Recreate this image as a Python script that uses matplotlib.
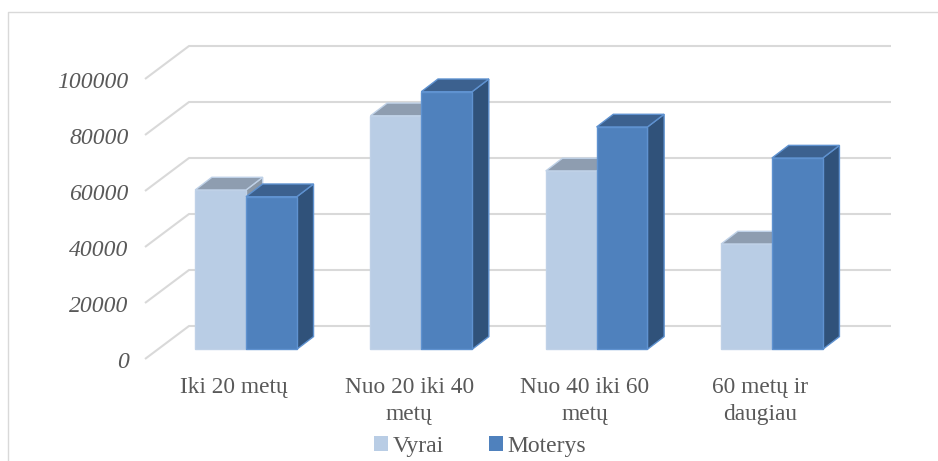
import matplotlib
matplotlib.use("Agg")
import matplotlib.pyplot as plt
from matplotlib.patches import Polygon, Patch
from matplotlib.lines import Line2D

plt.rcParams['font.family'] = ['Liberation Serif', 'DejaVu Serif']

categories = ["Iki 20 metų", "Nuo 20 iki 40\nmetų", "Nuo 40 iki 60\nmetų", "60 metų ir\ndaugiau"]
vyrai = [56900, 83400, 63700, 37600]
moterys = [54500, 92000, 79400, 68300]
y_ticks = [0, 20000, 40000, 60000, 80000, 100000]

W, H = 938, 461
x0_px, cat_px = 246.0, 175.3     # first category centre, category spacing
y0_px, val_px = 349.3, 280.0 / 100000   # zero line of the bar fronts, px per unit

# px -> data helpers for the oblique depth offsets
def dx(px):
    return px / cat_px

def dy(px):
    return px / val_px

fig = plt.figure(figsize=(W / 100, H / 100), dpi=100)
ax = fig.add_axes([0, 0, 1, 1])
ax.set_xlim(-x0_px / cat_px, (W - x0_px) / cat_px)
ax.set_ylim(-(H - y0_px) / val_px, y0_px / val_px)
ax.axis("off")

grid_c = "#d9d9d9"
text_c = "#595959"
wall_left = dx(189 - x0_px)
wall_right = dx(891 - x0_px)
front_left = dx(145 - x0_px)
front_drop = dy(9.7)
wall_rise = dy(23.3)

# back wall lines and their diagonal returns to the front
for t in y_ticks:
    ax.plot([front_left, wall_left, wall_right],
            [t - front_drop, t + wall_rise, t + wall_rise],
            color=grid_c, lw=1.5, solid_capstyle="butt", zorder=1)
    ax.text(dx(128.5 - x0_px), t - front_drop - dy(8.7), str(t), ha="right", va="baseline",
            fontsize=17, style="italic", color=text_c)

width = 0.29
depth_x = dx(16.7)
depth_y = dy(12.7)

def draw_bar(x, v, face, top, side, edge, z):
    l, r = x - width / 2, x + width / 2
    ax.add_patch(Polygon([(r, 0), (r + depth_x, depth_y), (r + depth_x, v + depth_y), (r, v)],
                         facecolor=side, edgecolor=edge, lw=1, zorder=z))
    ax.add_patch(Polygon([(l, v), (l + depth_x, v + depth_y), (r + depth_x, v + depth_y), (r, v)],
                         facecolor=top, edgecolor=edge, lw=1, zorder=z))
    ax.bar(x, v, width, color=face, edgecolor=edge, lw=1, zorder=z + 0.1)

for i in range(len(categories)):
    draw_bar(i - width / 2, vyrai[i], "#b9cde5", "#8e9db0", "#8a97a6", "#bfd1e7", 3)
    draw_bar(i + width / 2, moterys[i], "#4f81bd", "#3c618f", "#30527a", "#5f92d0", 4)

# category names, wrapped by hand, one baseline per line
for i, c in enumerate(categories):
    for j, part in enumerate(c.split("\n")):
        ax.text(i + dx(234 - x0_px), dy(y0_px - 393 - 27 * j), part, ha="center", va="baseline",
                fontsize=16.8, color=text_c)

leg = fig.legend(handles=[Patch(facecolor="#b9cde5", label="Vyrai"),
                          Patch(facecolor="#4f81bd", label="Moterys")],
                 ncol=2, loc="center", bbox_to_anchor=(480 / W, 1 - 446.5 / H),
                 frameon=False, fontsize=17, handlelength=0.59, handleheight=0.59,
                 handletextpad=0.2, columnspacing=1.9, labelcolor=text_c,
                 borderpad=0, borderaxespad=0)

# thin frame of the chart area, only the top and left sides show
fig.add_artist(Line2D([7.5 / W, 7.5 / W, 1], [0, 1 - 12.5 / H, 1 - 12.5 / H],
                      color="#d9d9d9", lw=1))

fig.savefig("out.png", dpi=100)
